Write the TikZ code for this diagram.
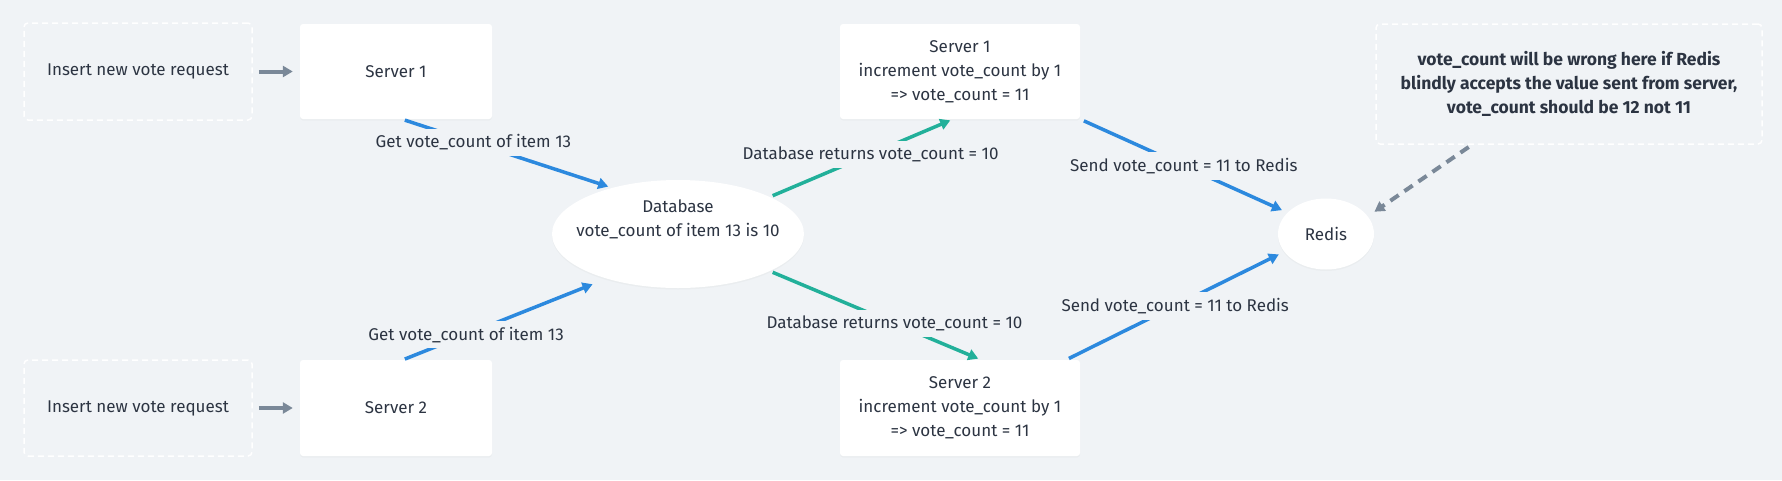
\documentclass[tikz,border=0pt]{standalone}
\usepackage{fontspec}
\setmainfont{Fira Sans}
\usetikzlibrary{arrows.meta,shapes.geometric,shadows}
\definecolor{bg}{RGB}{240,243,246}
\definecolor{ink}{RGB}{44,52,66}
\definecolor{flowblue}{RGB}{44,137,222}
\definecolor{flowteal}{RGB}{34,176,154}
\definecolor{flowgray}{RGB}{122,136,152}
\tikzset{
  whitebox/.style={draw=none, fill=white, rounded corners=3pt, align=center, inner sep=0pt,
    drop shadow={shadow xshift=0pt, shadow yshift=-1.5pt, opacity=0.05}},
  dashbox/.style={draw=white, dashed, dash pattern=on 6pt off 4pt, line width=1.5pt,
    rounded corners=4pt, align=center, inner sep=0pt},
  blob/.style={ellipse, fill=white, draw=none, align=center, inner xsep=-25pt, inner ysep=-10pt,
    drop shadow={shadow xshift=0pt, shadow yshift=-1.5pt, opacity=0.05}},
  lbl/.style={fill=bg, inner xsep=6pt, inner ysep=6pt},
  bluearrow/.style={draw=flowblue, line width=3.5pt, -{Triangle[length=10pt,width=11pt]}},
  tealarrow/.style={draw=flowteal, line width=3.5pt, -{Triangle[length=10pt,width=11pt]}},
  grayarrow/.style={draw=flowgray, line width=4pt, -{Triangle[length=10pt,width=11pt]}}
}
\begin{document}
\begin{tikzpicture}[x=1pt, y=-1pt, font=\fontsize{17}{24}\selectfont, text=ink]
\fill[bg] (0,0) rectangle (1782,480);
\useasboundingbox (0,0) rectangle (1782,480);

% requests and first servers
\node[dashbox, minimum width=228pt, minimum height=97pt] (ins1) at (138,71.5) {Insert new vote request};
\node[whitebox, minimum width=192pt, minimum height=95pt] (srv1) at (396,71.5) {Server 1};
\node[dashbox, minimum width=228pt, minimum height=96pt] (ins2) at (138,408) {Insert new vote request};
\node[whitebox, minimum width=192pt, minimum height=96pt] (srv2) at (396,408) {Server 2};

% database and redis
\node[blob, minimum width=252pt, minimum height=108pt] (db) at (678,234) {Database\\vote\_count of item 13 is 10\\ \strut};
\node[blob, minimum width=96pt, minimum height=71pt] (redis) at (1326,234) {Redis};

% servers after the read
\node[whitebox, minimum width=240pt, minimum height=95pt] (inc1) at (960,71.5)
  {Server 1\\increment vote\_count by 1\\=> vote\_count = 11};
\node[whitebox, minimum width=240pt, minimum height=96pt] (inc2) at (960,408)
  {Server 2\\increment vote\_count by 1\\=> vote\_count = 11};

\node[dashbox, minimum width=386pt, minimum height=120pt, font=\fontsize{17.5}{24}\selectfont\bfseries] (note) at (1569,84)
  {vote\_count will be wrong here if Redis\\blindly accepts the value sent from server,\\vote\_count should be 12 not 11};

% connectors
\draw[grayarrow, shorten <=6pt, shorten >=7pt] (ins1) -- (srv1);
\draw[grayarrow, shorten <=6pt, shorten >=7pt] (ins2) -- (srv2);

\draw[bluearrow, shorten <=3pt, shorten >=4pt] ([xshift=6pt]srv1.south) -- node[lbl, pos=.34] {Get vote\_count of item 13} (db.145);
\draw[bluearrow, shorten <=2pt, shorten >=15pt] ([xshift=7pt]srv2.north) -- node[lbl, pos=.31] {Get vote\_count of item 13} (db.212);

\draw[tealarrow, shorten <=3pt, shorten >=3pt] (db.22) -- node[lbl, pos=.55] {Database returns vote\_count = 10} ([xshift=-7pt]inc1.south);
\draw[tealarrow, shorten <=3pt, shorten >=3pt] (db.-22) -- node[lbl, pos=.59] {Database returns vote\_count = 10} ([xshift=21pt]inc2.north);

\draw[bluearrow, shorten <=4pt, shorten >=6pt] (inc1.south east) -- node[lbl] {Send vote\_count = 11 to Redis} (redis.151);
\draw[bluearrow, shorten <=3pt, shorten >=6pt] ([xshift=-14pt]inc2.north east) -- node[lbl] {Send vote\_count = 11 to Redis} (redis.203);

\draw[grayarrow, dash pattern=on 10pt off 7pt, shorten <=4pt, shorten >=8pt] ([xshift=-97pt]note.south) -- (redis.23);
\end{tikzpicture}
\end{document}
